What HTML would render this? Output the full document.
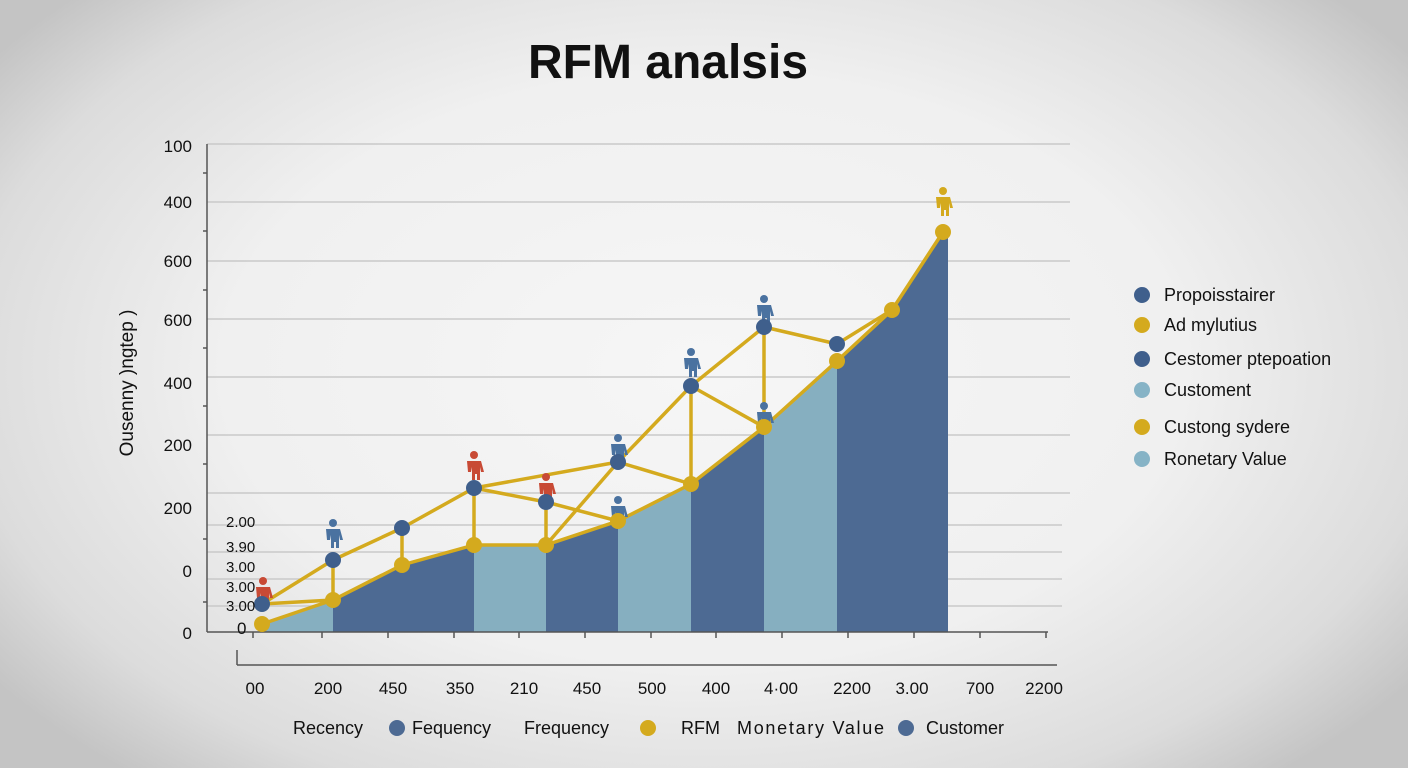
<!DOCTYPE html>
<html><head><meta charset="utf-8"><style>
html,body{margin:0;padding:0}
body{width:1408px;height:768px;overflow:hidden;background:radial-gradient(ellipse 62% 70% at 50% 48%,#f6f6f6 0%,#f0f0f0 55%,#dcdcdc 85%,#c4c4c4 100%);font-family:"Liberation Sans",sans-serif}
svg{position:absolute;left:0;top:0}
</style></head><body>
<svg width="1408" height="768" viewBox="0 0 1408 768" font-family="Liberation Sans, sans-serif">
<text x="668" y="78" font-size="48" font-weight="bold" text-anchor="middle" fill="#111">RFM analsis</text>
<g stroke="#c9c9c9" stroke-width="1.5">
<line x1="207" y1="144" x2="1070" y2="144"/><line x1="207" y1="202" x2="1070" y2="202"/>
<line x1="207" y1="261" x2="1070" y2="261"/><line x1="207" y1="319" x2="1070" y2="319"/>
<line x1="207" y1="377" x2="1070" y2="377"/><line x1="207" y1="435" x2="1070" y2="435"/>
<line x1="207" y1="493" x2="1070" y2="493"/><line x1="207" y1="525" x2="1062" y2="525"/>
<line x1="207" y1="552" x2="1062" y2="552"/><line x1="207" y1="579" x2="1062" y2="579"/>
<line x1="207" y1="606" x2="1062" y2="606"/>
</g>
<g fill="#86afc0">
<polygon points="262,624 333,600 333,632 262,632"/>
<polygon points="474,545 546,545 546,632 474,632"/>
<polygon points="618,521 691,484 691,632 618,632"/>
<polygon points="764,427 837,361 837,632 764,632"/>
</g>
<g fill="#4d6a93">
<polygon points="333,600 402,565 474,545 474,632 333,632"/>
<polygon points="546,545 618,521 618,632 546,632"/>
<polygon points="691,484 764,427 764,632 691,632"/>
<polygon points="837,361 892,310 943,232 948,232 948,632 837,632"/>
</g>
<g stroke="#555" stroke-width="1.5" fill="none">
<line x1="207" y1="144" x2="207" y2="632"/>
<line x1="207" y1="632" x2="1048" y2="632"/>
<line x1="237" y1="650" x2="237" y2="665"/>
<line x1="237" y1="665" x2="1057" y2="665"/>
</g>
<g stroke="#555" stroke-width="1.5">
<line x1="253" y1="632" x2="253" y2="638"/><line x1="322" y1="632" x2="322" y2="638"/><line x1="388" y1="632" x2="388" y2="638"/><line x1="454" y1="632" x2="454" y2="638"/><line x1="519" y1="632" x2="519" y2="638"/><line x1="585" y1="632" x2="585" y2="638"/><line x1="651" y1="632" x2="651" y2="638"/><line x1="716" y1="632" x2="716" y2="638"/><line x1="782" y1="632" x2="782" y2="638"/><line x1="848" y1="632" x2="848" y2="638"/><line x1="914" y1="632" x2="914" y2="638"/><line x1="980" y1="632" x2="980" y2="638"/><line x1="1046" y1="632" x2="1046" y2="638"/>
<line x1="203" y1="173" x2="207" y2="173"/><line x1="203" y1="231" x2="207" y2="231"/><line x1="203" y1="290" x2="207" y2="290"/><line x1="203" y1="348" x2="207" y2="348"/><line x1="203" y1="406" x2="207" y2="406"/><line x1="203" y1="464" x2="207" y2="464"/><line x1="203" y1="539" x2="207" y2="539"/><line x1="203" y1="602" x2="207" y2="602"/>
</g>
<g stroke="#d4aa1e" stroke-width="3.5" fill="none" stroke-linejoin="round">
<polyline points="262,624 333,600 402,565 474,545 546,545 618,521 691,484 764,427 837,361 892,310 943,232"/>
<polyline points="262,604 333,560 402,528 474,488 546,502 618,521"/>
<polyline points="262,604 333,600"/>
<polyline points="474,488 618,462 691,386 764,327 837,344 892,310"/>
<polyline points="546,545 618,462"/>
<polyline points="618,462 691,484"/>
<polyline points="691,386 764,427"/>
<line x1="333" y1="560" x2="333" y2="600"/><line x1="402" y1="528" x2="402" y2="565"/>
<line x1="474" y1="488" x2="474" y2="545"/><line x1="546" y1="502" x2="546" y2="545"/>
<line x1="691" y1="386" x2="691" y2="484"/><line x1="764" y1="327" x2="764" y2="427"/>
</g>
<defs><g id="p"><circle cx="0" cy="-19" r="4"/><path d="M-7,-13 h14 l3,11 h-3 l-1,-5 v13 h-3 v-6 h-2 v6 h-3 v-13 l-1,5 h-3 z"/></g></defs>
<g fill="#4a72a0"><use href="#p" x="333" y="542"/><use href="#p" x="618" y="457"/><use href="#p" x="618" y="519"/><use href="#p" x="691" y="371"/><use href="#p" x="764" y="318"/><use href="#p" x="764" y="425"/></g>
<g fill="#c84a35"><use href="#p" x="263" y="600"/><use href="#p" x="474" y="474"/><use href="#p" x="546" y="496"/></g>
<g fill="#d4aa1e"><use href="#p" x="943" y="210"/></g>
<g fill="#d4aa1e"><circle cx="262" cy="624" r="8"/><circle cx="333" cy="600" r="8"/><circle cx="402" cy="565" r="8"/><circle cx="474" cy="545" r="8"/><circle cx="546" cy="545" r="8"/><circle cx="618" cy="521" r="8"/><circle cx="691" cy="484" r="8"/><circle cx="764" cy="427" r="8"/><circle cx="837" cy="361" r="8"/><circle cx="892" cy="310" r="8"/><circle cx="943" cy="232" r="8"/></g>
<g fill="#3f5f8c"><circle cx="262" cy="604" r="8"/><circle cx="333" cy="560" r="8"/><circle cx="402" cy="528" r="8"/><circle cx="474" cy="488" r="8"/><circle cx="546" cy="502" r="8"/><circle cx="618" cy="462" r="8"/><circle cx="691" cy="386" r="8"/><circle cx="764" cy="327" r="8"/><circle cx="837" cy="344" r="8"/></g>
<g font-size="17" fill="#111" text-anchor="end">
<text x="192" y="152">100</text><text x="192" y="208">400</text><text x="192" y="267">600</text><text x="192" y="326">600</text><text x="192" y="389">400</text><text x="192" y="451">200</text><text x="192" y="514">200</text><text x="192" y="577">0</text><text x="192" y="639">0</text>
</g>
<g font-size="15" fill="#111">
<text x="226" y="527">2.00</text><text x="226" y="552">3.90</text><text x="226" y="572">3.00</text><text x="226" y="592">3.00</text><text x="226" y="611">3.00</text><text x="237" y="634" font-size="17">0</text>
</g>
<text transform="translate(133,383) rotate(-90)" font-size="19" fill="#111" text-anchor="middle">Ousenny )ngtep )</text>
<g font-size="17" fill="#111" text-anchor="middle">
<text x="255" y="694">00</text><text x="328" y="694">200</text><text x="393" y="694">450</text><text x="460" y="694">350</text><text x="524" y="694">210</text><text x="587" y="694">450</text><text x="652" y="694">500</text><text x="716" y="694">400</text><text x="781" y="694">4·00</text><text x="852" y="694">2200</text><text x="912" y="694">3.00</text><text x="980" y="694">700</text><text x="1044" y="694">2200</text>
</g>
<g font-size="18" fill="#111">
<text x="293" y="734">Recency</text><circle cx="397" cy="728" r="8" fill="#4d6a93"/><text x="412" y="734">Fequency</text>
<text x="524" y="734">Frequency</text><circle cx="648" cy="728" r="8" fill="#d4aa1e"/><text x="681" y="734">RFM</text>
<text x="737" y="734" textLength="147">Monetary Value</text><circle cx="906" cy="728" r="8" fill="#4d6a93"/><text x="926" y="734">Customer</text>
</g>
<g font-size="18" fill="#111">
<circle cx="1142" cy="295" r="8" fill="#3f5f8c"/><text x="1164" y="301">Propoisstairer</text>
<circle cx="1142" cy="325" r="8" fill="#d4aa1e"/><text x="1164" y="331">Ad mylutius</text>
<circle cx="1142" cy="359" r="8" fill="#3f5f8c"/><text x="1164" y="365">Cestomer ptepoation</text>
<circle cx="1142" cy="390" r="8" fill="#86b3c6"/><text x="1164" y="396">Customent</text>
<circle cx="1142" cy="427" r="8" fill="#d4aa1e"/><text x="1164" y="433">Custong sydere</text>
<circle cx="1142" cy="459" r="8" fill="#86b3c6"/><text x="1164" y="465">Ronetary Value</text>
</g>
</svg>
</body></html>
